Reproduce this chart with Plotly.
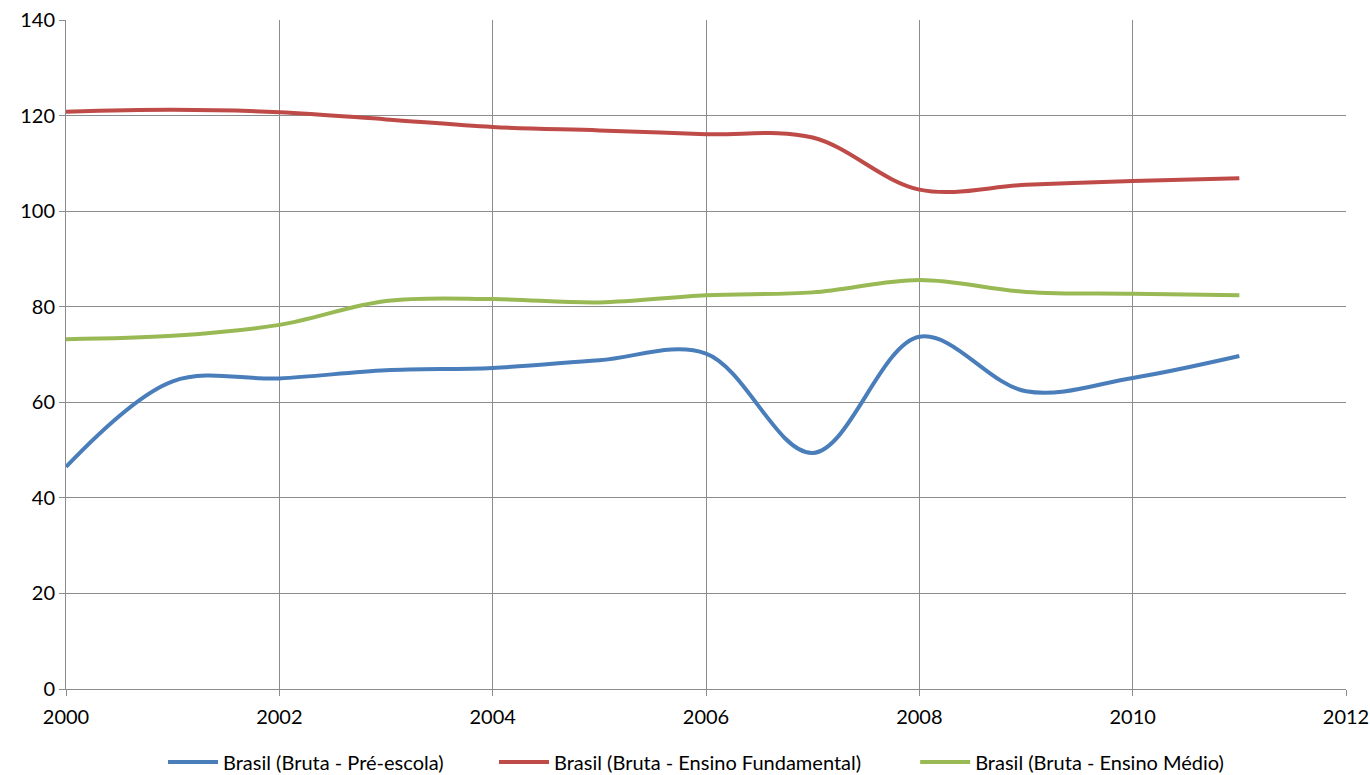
import plotly.graph_objects as go

years = [2000, 2001, 2002, 2003, 2004, 2005, 2006, 2007, 2008, 2009, 2010, 2011]
pre_escola = [46.5, 64.4, 65.0, 66.7, 67.2, 68.8, 70.2, 49.4, 73.7, 62.3, 65.1, 69.7]
fundamental = [120.8, 121.2, 120.7, 119.2, 117.6, 116.9, 116.1, 115.4, 104.5, 105.5, 106.3, 106.9]
medio = [73.2, 73.9, 76.2, 81.2, 81.6, 80.9, 82.4, 83.0, 85.6, 83.1, 82.7, 82.4]

series = [
    ("Brasil (Bruta - Pré-escola)", pre_escola, "#4A7EBB", "legend"),
    ("Brasil (Bruta - Ensino Fundamental)", fundamental, "#BE4B48", "legend2"),
    ("Brasil (Bruta - Ensino Médio)", medio, "#98B954", "legend3"),
]

fig = go.Figure()
for name, vals, color, lg in series:
    fig.add_trace(go.Scatter(
        x=years, y=vals, name=name, mode="lines", legend=lg,
        line=dict(color=color, width=4, shape="spline", smoothing=1.0),
    ))

axis_font = dict(family="Lato, Open Sans, sans-serif", size=20, color="#000000")
legend_font = dict(family="Lato, Open Sans, sans-serif", size=20, color="#000000")


def legend_at(xpos):
    return dict(orientation="h", xref="container", x=xpos, xanchor="left",
                y=-0.08, yanchor="top", font=legend_font, itemwidth=50,
                bgcolor="rgba(0,0,0,0)")


fig.update_layout(
    width=1370, height=775,
    margin=dict(l=66, r=24, t=20, b=86, autoexpand=False),
    paper_bgcolor="white", plot_bgcolor="white",
    font=axis_font,
    showlegend=True,
    legend=legend_at(0.119),
    legend2=legend_at(0.3606),
    legend3=legend_at(0.668),
    xaxis=dict(range=[2000, 2012], dtick=2, tick0=2000, showgrid=True, gridcolor="#8C8C8C",
               gridwidth=1, showline=True, linecolor="#8C8C8C", ticks="outside", ticklen=6,
               tickcolor="#8C8C8C", zeroline=False, tickfont=axis_font, ticklabelstandoff=4),
    yaxis=dict(range=[0, 140], dtick=20, tick0=0, showgrid=True, gridcolor="#8C8C8C",
               gridwidth=1, showline=True, linecolor="#8C8C8C", ticks="outside", ticklen=6,
               tickcolor="#8C8C8C", zeroline=False, tickfont=axis_font),
)

fig.write_html("out.html")
